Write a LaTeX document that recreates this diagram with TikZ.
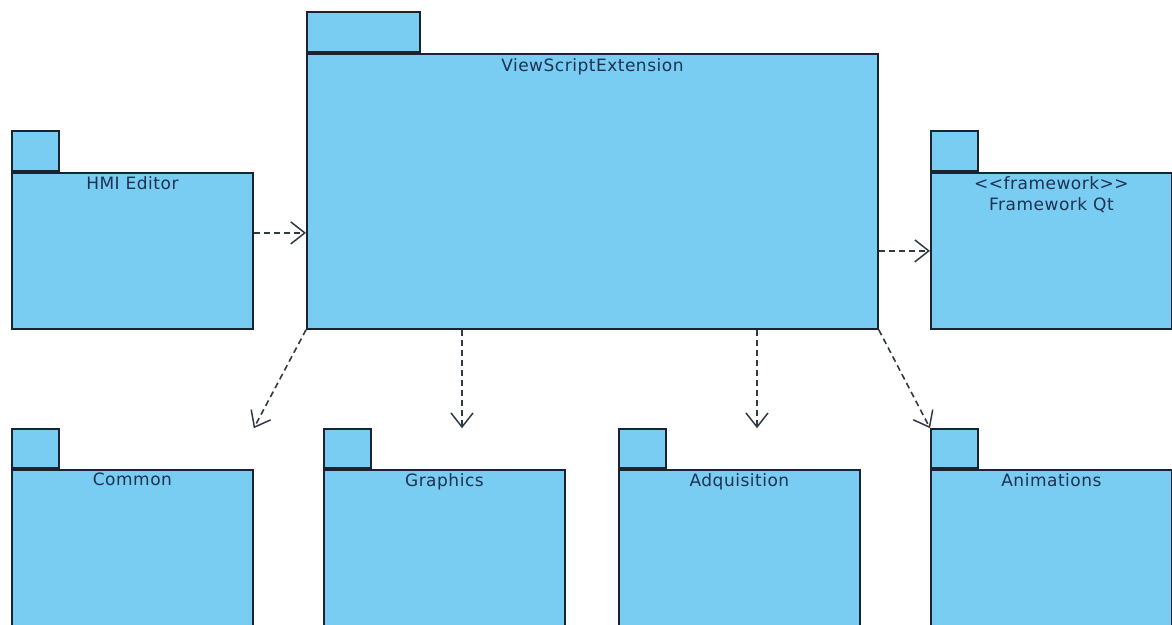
\documentclass[tikz,border=0pt]{standalone}
\usepackage{fontspec}
\setmainfont{DejaVu Sans}[LetterSpace=3]
\usetikzlibrary{positioning,arrows.meta}

\definecolor{pkgfill}{HTML}{79CDF2}
\definecolor{pkgline}{HTML}{1A2330}
\definecolor{pkgtext}{HTML}{1E3150}

\tikzset{
  pkg/.style={draw=pkgline, fill=pkgfill, line width=1.8pt, inner sep=0pt,
    minimum width=241pt, minimum height=156pt, anchor=north west},
  pkgtab/.style={draw=pkgline, fill=pkgfill, line width=1.8pt, inner sep=0pt,
    minimum width=47pt, minimum height=40pt, anchor=south west},
  pkgname/.style={text=pkgtext, font=\fontsize{17}{21}\selectfont, inner sep=0pt,
    align=center},
  dep/.style={draw=pkgline!90, line width=1.6pt, dash pattern=on 6pt off 4pt,
    -{Straight Barb[length=14pt, width=22pt, line width=1.5pt]}}
}

\begin{document}
\begin{tikzpicture}[x=1pt, y=-1pt]
  \path[use as bounding box, clip] (0,0) rectangle (1172,624);

  % top row
  \node[pkg, minimum width=571pt, minimum height=275pt] (vse) at (306,53) {};
  \node[pkgtab, minimum width=113pt] (vsetab) at (vse.north west) {};
  \node[pkgname, below=5pt of vse.north] (vsename) {ViewScriptExtension};

  \node[pkg] (hmi) at (11,172) {};
  \node[pkgtab] (hmitab) at (hmi.north west) {};
  \node[pkgname, below=4pt of hmi.north] (hminame) {HMI Editor};

  \node[pkg] (fw) at (930,172) {};
  \node[pkgtab] (fwtab) at (fw.north west) {};
  \node[pkgname, below=4pt of fw.north] (fwname) {{<}{<}framework{>}{>}\\Framework Qt};

  % bottom row (cut by the page edge)
  \node[pkg, minimum height=180pt] (com) at (11,469) {};
  \node[pkgtab, minimum height=39pt] (comtab) at (com.north west) {};
  \node[pkgname, below=4pt of com.north] (comname) {Common};

  \node[pkg, minimum height=180pt] (gfx) at (323,469) {};
  \node[pkgtab, minimum height=39pt] (gfxtab) at (gfx.north west) {};
  \node[pkgname, below=4pt of gfx.north] (gfxname) {Graphics};

  \node[pkg, minimum height=180pt] (adq) at (618,469) {};
  \node[pkgtab, minimum height=39pt] (adqtab) at (adq.north west) {};
  \node[pkgname, below=4pt of adq.north] (adqname) {Adquisition};

  \node[pkg, minimum height=180pt] (ani) at (930,469) {};
  \node[pkgtab, minimum height=39pt] (anitab) at (ani.north west) {};
  \node[pkgname, below=4pt of ani.north] (aniname) {Animations};

  % dependencies
  \coordinate (h1) at ([yshift=18pt]hmi.east);
  \draw[dep] (h1) -- (h1 -| vse.west);
  \draw[dep] (vse.east |- fw.west) -- (fw.west);

  \coordinate (g1) at ([xshift=156pt]vse.south west);
  \coordinate (a1) at ([xshift=451pt]vse.south west);
  \draw[dep] (vse.south west) -- (comtab.north -| com.east);
  \draw[dep] (g1) -- (g1 |- gfxtab.north);
  \draw[dep] (a1) -- (a1 |- adqtab.north);
  \draw[dep] (vse.south east) -- (anitab.north west);
\end{tikzpicture}
\end{document}
